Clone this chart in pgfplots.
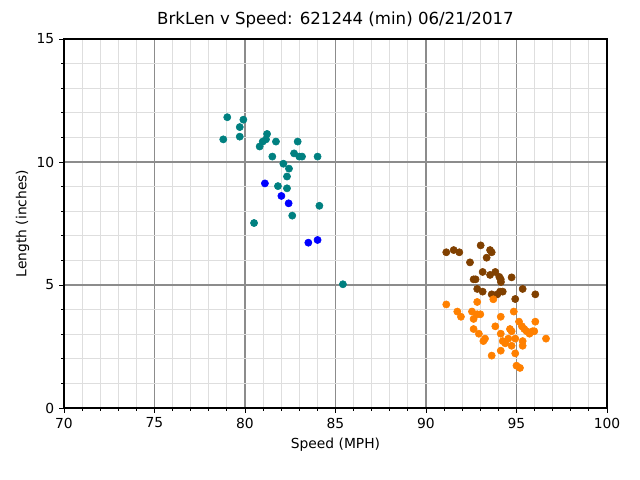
\documentclass[border=0pt]{standalone}
\usepackage{pgfplots}
\pgfplotsset{compat=1.18}
\usepackage{fontspec}
\setmainfont{DejaVu Sans}
\definecolor{cteal}{RGB}{0,128,128}
\definecolor{cblue}{RGB}{0,0,255}
\definecolor{cbrown}{RGB}{128,64,0}
\definecolor{corange}{RGB}{255,128,0}
\begin{document}
\begin{tikzpicture}
\useasboundingbox (-0.64in,-0.72in) rectangle (5.76in,4.08in);
\begin{axis}[
  at={(0,0)}, anchor=south west,
  scale only axis, width=5.43in, height=3.69in,
  xmin=70, xmax=100, ymin=0, ymax=15,
  xtick={70,75,...,100}, ytick={0,5,10,15},
  minor xtick={71,72,73,74,76,77,78,79,81,82,83,84,86,87,88,89,91,92,93,94,96,97,98,99},
  minor ytick={1,2,3,4,6,7,8,9,11,12,13,14},
  grid=both,
  major grid style={draw=gray!90, line width=0.8pt},
  minor grid style={draw=black!13, line width=0.8pt},
  tick align=outside, tick pos=left,
  major tick length=3.5pt, minor tick length=2pt,
  every tick/.style={black, line width=0.6pt},
  axis line style={black, line width=0.8pt},
  /pgf/number format/assume math mode=true,
  tick label style={font=\fontsize{10}{12}\selectfont},
  label style={font=\fontsize{10}{12}\selectfont},
  xlabel={Speed (MPH)}, ylabel={Length (inches)},
  ylabel style={yshift=-1.5pt},
  title={BrkLen v Speed: 621244 (min) 06/21/2017},
  title style={font=\fontsize{12}{14}\selectfont, yshift=-1.5pt},
]
\addplot[only marks, mark=*, mark size=2.6pt, mark options={draw=cteal, fill=cteal}] coordinates {
(79.02,11.82) (79.91,11.72) (79.71,11.42) (78.80,10.92) (79.71,11.03)
(81.22,11.14) (81.16,10.92) (80.98,10.83) (80.81,10.63) (81.71,10.83)
(82.91,10.83) (81.51,10.22) (82.71,10.35) (83.00,10.22) (83.15,10.22)
(84.01,10.22) (82.12,9.93) (82.43,9.73) (82.32,9.41) (81.82,9.02)
(82.32,8.93) (84.11,8.22) (82.61,7.82) (80.50,7.52) (85.41,5.03)
};
\addplot[only marks, mark=*, mark size=2.6pt, mark options={draw=cblue, fill=cblue}] coordinates {
(81.10,9.13) (82.01,8.62) (82.41,8.32) (83.50,6.72) (84.01,6.83)
};
\addplot[only marks, mark=*, mark size=2.6pt, mark options={draw=cbrown, fill=cbrown}] coordinates {
(91.12,6.33) (91.53,6.42) (91.84,6.33) (93.02,6.61) (93.54,6.42)
(93.63,6.33) (93.35,6.11) (92.43,5.92) (93.13,5.53) (93.54,5.41)
(93.83,5.53) (94.05,5.33) (94.13,5.23) (94.14,5.12) (94.73,5.31)
(92.63,5.23) (92.74,5.23) (92.83,4.84) (93.13,4.73) (93.63,4.62)
(93.94,4.62) (94.09,4.73) (94.24,4.73) (95.34,4.84) (96.04,4.62)
(94.93,4.43)
};
\addplot[only marks, mark=*, mark size=2.6pt, mark options={draw=corange, fill=corange}] coordinates {
(91.12,4.21) (92.83,4.31) (93.72,4.42) (91.73,3.92) (91.93,3.71)
(92.54,3.92) (92.63,3.62) (92.83,3.81) (93.00,3.81) (94.13,3.71)
(94.85,3.92) (95.14,3.51) (96.04,3.51) (93.83,3.32) (92.63,3.21)
(92.92,3.02) (94.13,3.02) (94.64,3.21) (94.73,3.12) (95.30,3.32)
(95.43,3.21) (95.56,3.12) (95.72,3.02) (95.89,3.12) (95.98,3.12)
(96.63,2.82) (93.26,2.82) (93.17,2.72) (94.24,2.72) (94.38,2.63)
(94.55,2.82) (94.73,2.53) (94.93,2.82) (95.34,2.72) (95.34,2.53)
(94.13,2.33) (94.93,2.22) (93.63,2.13) (95.00,1.72) (95.19,1.63)
};
\end{axis}
\end{tikzpicture}
\end{document}
